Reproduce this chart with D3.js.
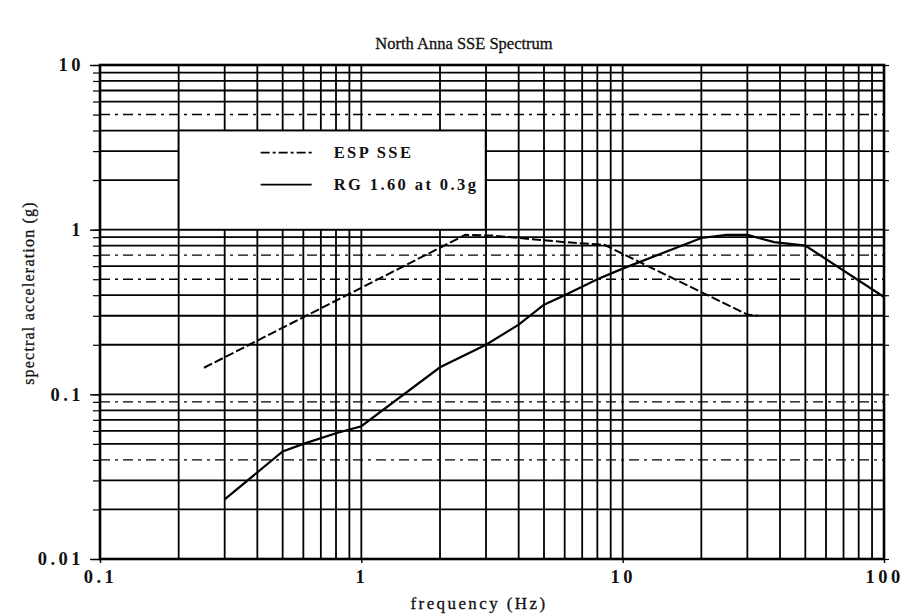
<!DOCTYPE html>
<html>
<head>
<meta charset="utf-8">
<script src="https://cdn.jsdelivr.net/npm/d3@7"></script>
<style>
  body { margin: 0; background: #fff; }
  text { font-family: "Liberation Serif", "DejaVu Serif", serif; fill: #111; }
</style>
</head>
<body>
<div id="chart"></div>
<script>
const svgWidth = 908;
const svgHeight = 616;
const margin = { top: 65, right: 24, bottom: 57, left: 100 };
const width = svgWidth - margin.left - margin.right;
const height = svgHeight - margin.top - margin.bottom;

// ESP SSE spectrum (dashed)
const espFreq = [0.25, 2.5, 3.2, 6, 8.5, 30, 33];
const espAcc = [0.145, 0.93, 0.92, 0.84, 0.81, 0.305, 0.30];

// RG 1.60 at 0.3g (solid)
const rgFreq = [0.3, 0.5, 0.6, 0.8, 1, 2, 3, 4, 5, 6, 8, 10, 20, 25, 30, 38, 50, 100];
const rgAcc = [0.023, 0.045, 0.05, 0.058, 0.064, 0.146, 0.2, 0.265, 0.35, 0.40, 0.5, 0.58, 0.89, 0.93, 0.93, 0.84, 0.80, 0.39];

// axis ticks
const xTicks = [0.1, 1, 10, 100];
const xTickLabels = ["0.1", "1", "10", "100"];
const yTicks = [0.01, 0.1, 1, 10];
const yTickLabels = ["0.01", "0.1", "1", "10"];

// grid lines that look broken / dash-dotted in the scan
const dashedY = [5, 0.7, 0.5, 0.09, 0.04];

const svg = d3.select("#chart")
    .append("svg")
    .attr("width", svgWidth)
    .attr("height", svgHeight);

const chartGroup = svg.append("g")
    .attr("transform", `translate(${margin.left}, ${margin.top})`);

const x = d3.scaleLog().domain([0.1, 100]).range([0, width]);
const y = d3.scaleLog().domain([0.01, 10]).range([height, 0]);

// all 1..9 multiples of each decade
function logGrid(lo, hi) {
    const out = [];
    for (let d = lo; d < hi; d *= 10) {
        for (let m = 1; m < 10; m++) out.push(+(d * m).toPrecision(3));
    }
    out.push(hi);
    return out;
}
const xGrid = logGrid(0.1, 100);
const yGrid = logGrid(0.01, 10);

// vertical grid
chartGroup.append("g")
    .selectAll("line")
    .data(xGrid)
    .enter()
    .append("line")
    .attr("x1", d => x(d))
    .attr("x2", d => x(d))
    .attr("y1", 0)
    .attr("y2", height)
    .attr("stroke", "#000")
    .attr("stroke-width", 1.8);

// horizontal grid
chartGroup.append("g")
    .selectAll("line")
    .data(yGrid)
    .enter()
    .append("line")
    .attr("x1", 0)
    .attr("x2", width)
    .attr("y1", d => y(d))
    .attr("y2", d => y(d))
    .attr("stroke", "#000")
    .attr("stroke-width", d => dashedY.includes(d) ? 1.4 : 1.8)
    .attr("stroke-dasharray", d => dashedY.includes(d) ? "10,5,3,5" : null);

// outside tick marks (left and right) on every y grid value
const leftTicks = d3.axisLeft(y).tickValues(yGrid).tickSize(7).tickFormat("");
chartGroup.append("g").call(leftTicks)
    .call(g => g.select(".domain").remove())
    .selectAll("line").attr("stroke-width", 1.2);

const rightTicks = d3.axisRight(y).tickValues(yTicks.concat([0.2, 0.3, 0.4, 2, 3, 4])).tickSize(5).tickFormat("");
chartGroup.append("g").attr("transform", `translate(${width},0)`).call(rightTicks)
    .call(g => g.select(".domain").remove())
    .selectAll("line").attr("stroke-width", 1.2);

// y axis labels
const leftAxis = d3.axisLeft(y).tickValues(yTicks).tickSize(10).tickPadding(6)
    .tickFormat((d, i) => yTickLabels[i]);
chartGroup.append("g").call(leftAxis)
    .call(g => g.select(".domain").remove())
    .call(g => g.selectAll("line").attr("stroke-width", 1.4))
    .selectAll("text")
    .attr("font-family", '"Liberation Serif", serif')
    .attr("font-size", 18.5)
    .attr("font-weight", "bold")
    .attr("letter-spacing", 3.5)
    .attr("fill", "#111");

// x axis labels
const bottomAxis = d3.axisBottom(x).tickValues(xTicks).tickSize(4).tickPadding(7)
    .tickFormat((d, i) => xTickLabels[i]);
chartGroup.append("g").attr("transform", `translate(0, ${height})`).call(bottomAxis)
    .call(g => g.select(".domain").remove())
    .call(g => g.selectAll("line").attr("stroke-width", 1.4))
    .selectAll("text")
    .attr("font-family", '"Liberation Serif", serif')
    .attr("font-size", 18.5)
    .attr("font-weight", "bold")
    .attr("letter-spacing", 3.5)
    .attr("fill", "#111");

// legend box (covers grid)
const legend = chartGroup.append("g")
    .attr("transform", `translate(${x(0.2)}, ${y(4)})`);
legend.append("rect")
    .attr("x", 0)
    .attr("y", 0)
    .attr("width", 307)
    .attr("height", y(1) - y(4))
    .attr("fill", "#fff")
    .attr("stroke", "#000")
    .attr("stroke-width", 1.8);

const legendItems = [
    { label: "ESP SSE", dash: "9,3,3,3" },
    { label: "RG 1.60 at 0.3g", dash: null }
];
legendItems.forEach((item, i) => {
    const ly = 22 + i * 32;
    legend.append("line")
        .attr("x1", 82)
        .attr("x2", 133)
        .attr("y1", ly)
        .attr("y2", ly)
        .attr("stroke", "#000")
        .attr("stroke-width", 1.8)
        .attr("stroke-dasharray", item.dash);
    legend.append("text")
        .attr("x", 155)
        .attr("y", ly + 5)
        .style("font-size", "16.5px")
        .style("font-weight", "bold")
        .style("letter-spacing", "2.4px")
        .text(item.label);
});

// curves
const line = d3.line()
    .x(d => x(d[0]))
    .y(d => y(d[1]));

chartGroup.append("path")
    .datum(espFreq.map((f, i) => [f, espAcc[i]]))
    .attr("d", line)
    .attr("fill", "none")
    .attr("stroke", "#000")
    .attr("stroke-width", 2)
    .attr("stroke-dasharray", "9,3");

chartGroup.append("path")
    .datum(rgFreq.map((f, i) => [f, rgAcc[i]]))
    .attr("d", line)
    .attr("fill", "none")
    .attr("stroke", "#000")
    .attr("stroke-width", 2.2);

// plot frame
chartGroup.append("rect")
    .attr("x", 0)
    .attr("y", 0)
    .attr("width", width)
    .attr("height", height)
    .attr("fill", "none")
    .attr("stroke", "#000")
    .attr("stroke-width", 2.6);

// title and axis titles
svg.append("text")
    .attr("x", 464)
    .attr("y", 49)
    .attr("text-anchor", "middle")
    .style("font-size", "16.5px")
    .style("stroke", "#111")
    .style("stroke-width", "0.3px")
    .text("North Anna SSE Spectrum");

svg.append("text")
    .attr("x", 479)
    .attr("y", 609)
    .attr("text-anchor", "middle")
    .style("font-size", "17px")
    .style("letter-spacing", "2.4px")
    .style("stroke", "#111")
    .style("stroke-width", "0.3px")
    .text("frequency (Hz)");

svg.append("text")
    .attr("transform", `translate(34, ${293}) rotate(-90)`)
    .attr("text-anchor", "middle")
    .style("font-size", "16px")
    .style("letter-spacing", "1.2px")
    .style("stroke", "#111")
    .style("stroke-width", "0.3px")
    .text("spectral acceleration (g)");
</script>
</body>
</html>
